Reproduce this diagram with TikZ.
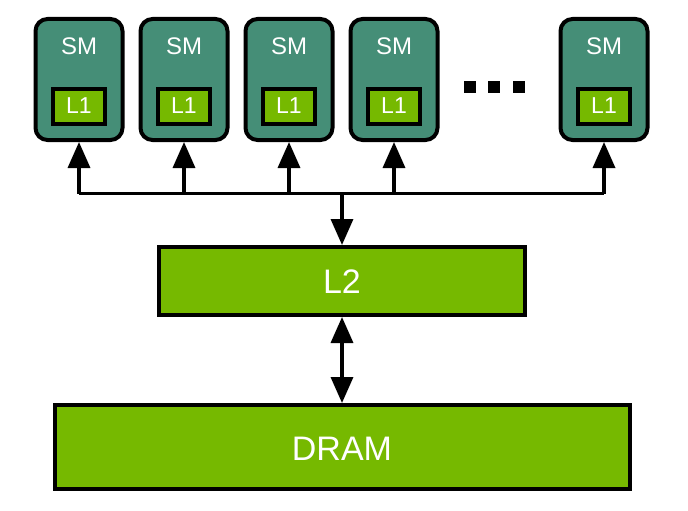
\documentclass[tikz,border=0pt]{standalone}
\usepackage{fontspec}
\setmainfont{Liberation Sans}
\usetikzlibrary{arrows.meta}
\definecolor{smteal}{RGB}{69,142,119}
\definecolor{cachegreen}{RGB}{118,185,0}
\begin{document}
\begin{tikzpicture}[x=1pt,y=-1pt,
        smbox/.style={draw,line width=4pt,fill=smteal,rounded corners=12pt,minimum width=87pt,minimum height=121pt,inner sep=0pt},
        cachebox/.style={draw,line width=4pt,fill=cachegreen,inner sep=0pt,text=white},
        lone/.style={cachebox,minimum width=52pt,minimum height=35pt},
        wtext/.style={text=white,inner sep=0pt,anchor=base},
        bus/.style={line width=3.5pt},
        tip/.style={-{Triangle[length=26pt,width=22pt]}}]
    \useasboundingbox (0,0) rectangle (688,511);

    %%%%%%%%%% Nodi %%%%%%%%%%
    \foreach \i/\x in {1/79,2/184,3/289,4/394,5/604} {
        \node[smbox] (sm\i) at (\x,79.5) {};
        \node[wtext,font=\fontsize{24}{24}\selectfont] (smt\i) at (\x,55) {SM};
        \node[lone] (lone\i) at (\x,106.5) {};
        \node[wtext,font=\fontsize{23}{23}\selectfont] (lonet\i) at (\x,113.5) {L1};
    }

    \foreach \x in {469.5,494,518.5}
        \fill (\x-6,81) rectangle ++(12,12);

    \node[cachebox,minimum width=366pt,minimum height=68pt] (ltwo) at (342,281) {};
    \node[wtext,font=\fontsize{34}{34}\selectfont] (ltwot) at (342,293) {L2};

    \node[cachebox,minimum width=575pt,minimum height=84pt] (dram) at (342,447) {};
    \node[wtext,font=\fontsize{34}{34}\selectfont] (dramt) at (342,460) {DRAM};

    \coordinate (hub) at (342,193.5);

    %%%%%%%%% Frecce %%%%%%%%%
    \draw[bus] (sm1.south |- hub) -- (sm5.south |- hub);

    \foreach \i in {1,...,5}
        \draw[bus,tip] (sm\i.south |- hub) -- (sm\i.south);

    \draw[bus,tip] (hub) -- (ltwo.north);
    \draw[bus,{Triangle[length=26pt,width=22pt]}-{Triangle[length=26pt,width=22pt]}] (ltwo.south) -- (dram.north);
\end{tikzpicture}
\end{document}
